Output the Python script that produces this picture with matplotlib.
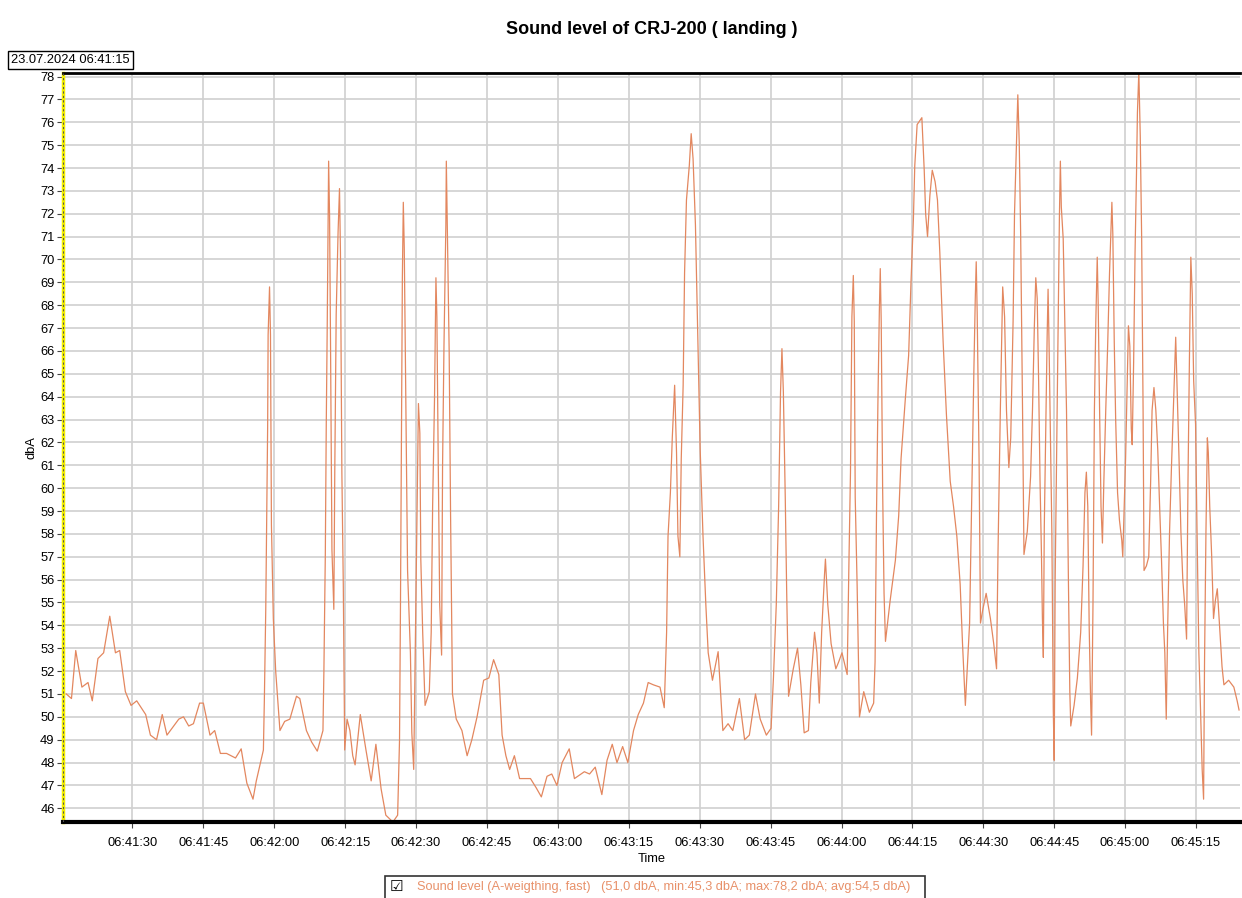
import matplotlib.pyplot as plt
import matplotlib
from matplotlib.patches import Rectangle
from matplotlib.ticker import FuncFormatter

matplotlib.rc('font', family=['Liberation Sans', 'DejaVu Sans'])

# seconds after 06:41:15
start_label = '23.07.2024 06:41:15'
start_sec = 6 * 3600 + 41 * 60 + 15

times = [1.0, 2.1, 3.0, 4.3, 5.6, 6.5, 7.7, 8.9, 10.2, 11.4, 12.3, 13.5, 14.7, 15.9,
         17.8, 18.8, 20.1, 21.3, 22.3, 24.8, 25.8, 26.9, 27.9, 29.2, 30.0, 31.4, 32.4,
         33.6, 34.9, 36.8, 38.0, 39.2, 40.5, 41.2, 42.7, 42.9, 43.2, 43.4, 43.6, 43.7,
         44.0, 44.2, 44.3, 44.4, 44.8, 45.3, 46.2, 47.2, 48.3, 49.7, 50.4, 51.8, 52.9,
         54.1, 55.3, 55.5, 55.8, 56.0, 56.2, 56.4, 56.5, 56.7, 56.9, 57.2, 57.6, 57.8,
         58.1, 58.5, 58.8, 59.0, 59.3, 59.6, 59.9, 60.4, 61.0, 61.6, 62.1, 63.2, 64.4,
         65.5, 66.5, 67.6, 68.6, 70.1, 71.1, 71.5, 71.7, 71.9, 72.1, 72.3, 72.5, 72.9,
         73.2, 73.8, 74.1, 74.5, 74.8, 75.2, 75.5, 75.8, 76.0, 76.4, 76.9, 77.8, 78.2,
         78.5, 78.9, 79.2, 79.4, 79.7, 80.0, 80.4, 80.6, 80.9, 81.3, 81.4, 81.6, 82.0,
         82.3, 82.7, 83.5, 84.7, 85.8, 86.8, 87.9, 89.3, 90.4, 91.4, 92.5, 93.2, 94.0,
         94.8, 95.8, 96.9, 99.2, 100.4, 101.5, 102.7, 103.7, 104.8, 105.9, 107.4, 108.5,
         110.6, 111.7, 112.9, 114.3, 115.4, 116.5, 117.5, 118.7, 119.8, 121.0, 122.0,
         123.1, 124.1, 125.2, 126.6, 127.5, 128.0, 128.3, 128.8, 129.2, 129.7, 130.1,
         130.4, 130.8, 131.1, 131.5, 131.8, 132.2, 132.8, 133.2, 133.6, 134.1, 134.6,
         135.1, 135.7, 136.3, 136.8, 137.7, 138.9, 139.9, 141.0, 142.0, 143.4, 144.5,
         145.5, 146.8, 147.8, 149.1, 150.1, 150.6, 151.2, 151.7, 152.1, 152.4, 152.7,
         153.1, 153.4, 153.8, 154.8, 155.7, 156.4, 157.1, 158.0, 158.5, 159.3, 159.8,
         160.3, 160.8, 161.4, 161.6, 162.1, 162.8, 163.8, 164.4, 165.1, 166.2, 166.6,
         166.9, 167.2, 167.5, 167.7, 167.9, 168.3, 168.8, 169.7, 170.9, 171.8, 172.1,
         172.4, 172.7, 173.0, 173.2, 173.4, 173.7, 174.0, 174.3, 175.3, 176.4, 177.1,
         177.6, 178.5, 179.2, 179.7, 180.2, 180.5, 181.0, 182.0, 182.5, 182.8, 183.2,
         183.7, 184.2, 184.8, 185.3, 185.8, 186.5, 187.2, 188.0, 188.7, 189.4, 190.1,
         190.6, 191.2, 192.1, 192.6, 193.0, 193.3, 193.5, 193.7, 194.1, 194.4, 194.9,
         195.6, 196.5, 197.2, 197.8, 198.1, 198.6, 199.1, 199.5, 199.9, 200.4, 200.8,
         201.3, 201.6, 202.1, 202.3, 202.6, 202.9, 203.3, 203.6, 204.3, 205.0, 205.4,
         205.8, 206.1, 206.4, 206.7, 207.0, 207.3, 207.5, 207.7, 207.9, 208.2, 208.5,
         208.7, 208.9, 209.2, 209.5, 209.8, 210.0, 210.2, 210.5, 210.8, 211.1, 211.3,
         211.5, 211.9, 212.2, 212.6, 213.0, 213.3, 213.5, 214.2, 214.9, 215.6, 216.1,
         216.5, 216.8, 217.1, 217.4, 217.7, 217.9, 218.2, 218.5, 218.8, 219.1, 219.3,
         219.6, 219.9, 220.2, 220.5, 220.9, 221.3, 221.7, 222.2, 222.4, 222.7, 223.0,
         223.4, 223.8, 224.3, 224.5, 224.8, 225.1, 225.5, 225.7, 226.0, 226.3, 226.5,
         226.8, 227.1, 227.4, 227.6, 227.9, 228.2, 228.5, 228.8, 229.0, 229.5, 230.0,
         230.4, 230.7, 231.1, 231.5, 231.9, 232.3, 232.7, 233.1, 233.4, 233.7, 234.0,
         234.4, 234.8, 235.2, 235.7, 235.9, 236.4, 236.8, 237.2, 237.6, 238.0, 238.3,
         238.6, 238.9, 239.2, 239.5, 239.9, 240.2, 240.6, 240.9, 241.3, 241.6, 241.8,
         242.1, 242.4, 242.6, 242.9, 243.3, 243.7, 244.1, 244.5, 245.0, 245.5, 245.9,
         246.9, 248.0, 248.7, 249.1]

levels = [51.0, 50.8, 52.9, 51.3, 51.5, 50.7, 52.55, 52.8, 54.4, 52.8, 52.9, 51.1, 50.5, 50.7,
          50.1, 49.2, 49.0, 50.1, 49.2, 49.9, 50.0, 49.6, 49.7, 50.6, 50.6, 49.2, 49.4,
          48.4, 48.4, 48.2, 48.6, 47.1, 46.4, 47.2, 48.55, 50.7, 54.7, 58.7, 62.7, 66.7,
          68.8, 66.7, 62.7, 58.4, 54.3, 52.0, 49.4, 49.8, 49.9, 50.9, 50.8, 49.4, 48.9,
          48.5, 49.4, 52.0, 57.1, 62.8, 67.0, 71.9, 74.3, 71.9, 66.4, 57.3, 54.7, 60.7,
          67.6, 71.2, 73.1, 70.3, 60.7, 55.8, 48.55, 49.9, 49.4, 48.3, 47.9, 50.1, 48.55,
          47.2, 48.8, 46.85, 45.7, 45.4, 45.7, 49.0, 54.9, 62.4, 69.2, 72.5, 70.5, 62.4,
          56.4, 52.8, 49.3, 47.7, 52.4, 59.0, 63.7, 62.4, 56.9, 53.7, 50.5, 51.1, 53.7,
          59.2, 63.9, 69.2, 67.5, 60.9, 54.9, 52.7, 60.9, 66.2, 71.5, 74.3, 71.5, 66.0,
          58.8, 51.0, 49.9, 49.4, 48.3, 49.0, 50.0, 51.6, 51.7, 52.5, 51.85, 49.2, 48.3,
          47.7, 48.3, 47.3, 47.3, 46.9, 46.5, 47.4, 47.5, 47.0, 48.0, 48.6, 47.3,
          47.6, 47.5, 47.8, 46.6, 48.1, 48.8, 48.0, 48.7, 48.0, 49.4, 50.1,
          50.6, 51.5, 51.4, 51.3, 50.4, 53.7, 57.9, 59.8, 62.2, 64.5, 61.55,
          57.9, 57.0, 61.3, 64.5, 69.4, 72.6, 74.1, 75.5, 74.4, 71.5, 66.6,
          61.7, 57.9, 54.9, 52.8, 51.6, 52.85, 49.4, 49.7, 49.4, 50.8, 49.0,
          49.2, 51.0, 49.9, 49.2, 49.5, 51.7, 54.9, 59.2, 64.2, 66.1, 64.2,
          59.6, 55.5, 50.9, 52.1, 53.0, 51.4, 49.3, 49.4, 51.5, 53.7, 52.8,
          50.6, 53.7, 56.2, 56.9, 54.9, 53.2, 52.1, 52.4, 52.8, 51.85, 57.1,
          60.7, 67.5, 69.3, 67.3, 59.6, 55.8, 50.0, 51.1, 50.2, 50.6, 52.4,
          58.8, 63.7, 67.7, 69.6, 67.3, 60.0, 55.4, 53.3, 55.1, 56.85, 58.8,
          61.3, 63.9, 65.8, 69.0, 71.7, 74.1, 75.9, 76.2, 73.9, 72.0, 71.0,
          72.8, 73.9, 73.4, 72.6, 70.3, 66.4, 63.2, 60.3, 59.2, 57.9, 55.8,
          53.2, 50.5, 54.1, 60.3, 65.1, 68.3, 69.9, 67.7, 61.3, 54.1, 54.7,
          55.4, 54.3, 53.2, 52.1, 57.1, 63.4, 68.8, 67.5, 63.4, 60.9, 62.2,
          67.3, 72.0, 75.6, 77.2, 75.1, 71.1, 63.4, 57.1, 58.1, 60.5, 63.4,
          67.1, 69.2, 68.3, 64.7, 60.3, 57.1, 54.3, 52.6, 58.3, 62.6, 66.6,
          68.7, 66.4, 62.4, 58.1, 50.3, 48.1, 56.0, 61.3, 66.4, 71.9, 74.3,
          72.3, 70.9, 67.7, 63.4, 56.0, 51.1, 49.6, 50.5, 51.7, 53.7, 56.6,
          59.8, 60.7, 59.2, 53.9, 50.7, 49.2, 54.9, 63.4, 67.3, 70.1, 68.1,
          63.4, 59.2, 57.6, 60.3, 63.4, 66.2, 69.4, 72.5, 71.1, 66.4, 63.0,
          59.8, 58.6, 57.7, 57.0, 59.2, 61.3, 65.1, 67.1, 66.2, 62.6, 61.9,
          65.5, 70.3, 73.7, 76.4, 78.2, 75.4, 70.9, 63.4, 56.4, 56.6, 57.0,
          60.3, 63.4, 64.4, 63.4, 61.7, 59.2, 56.85, 54.1, 52.8, 49.9, 53.9,
          58.1, 60.9, 63.4, 66.6, 65.1, 61.3, 58.1, 56.0, 54.9, 53.4, 60.3,
          65.6, 70.1, 68.5, 64.7, 62.8, 58.3, 52.8, 50.7, 47.7, 46.4, 52.4,
          58.1, 62.2, 61.55, 59.2, 57.1, 54.3, 55.1, 55.6, 53.9, 52.2, 51.4,
          51.6, 51.3, 50.7, 50.3]

tick_times = list(range(15, 241, 15))
y_ticks = list(range(46, 79))

line_color = '#e3875f'

fig = plt.figure(figsize=(12.42, 8.98), dpi=100)
ax = fig.add_axes([0.0507, 0.0846, 0.9473, 0.834])

ax.plot(times, levels, color=line_color, linewidth=0.9)

ax.set_xlim(0.3, 249.2)
ax.set_ylim(45.4, 78.15)

def fmt_time(t, pos):
    s = int(round(start_sec + t))
    return '%02d:%02d:%02d' % (s // 3600, (s // 60) % 60, s % 60)

ax.set_xticks(tick_times)
ax.xaxis.set_major_formatter(FuncFormatter(fmt_time))
ax.set_yticks(y_ticks)
ax.tick_params(axis='both', labelsize=9.3, length=4, width=0.8, color='#444444')
ax.tick_params(axis='x', pad=7)
ax.tick_params(axis='y', pad=2)

ax.grid(True, color='#d0d0d0', linewidth=1.2)
ax.set_axisbelow(True)

for side in ['top', 'bottom']:
    ax.spines[side].set_color('black')
ax.spines['bottom'].set_linewidth(3)
ax.spines['top'].set_linewidth(2)
ax.spines['right'].set_visible(False)
ax.spines['left'].set_color('#f4f000')
ax.spines['left'].set_linewidth(2.5)
ax.axvline(0.3, color='#555555', linewidth=0.8, linestyle=(0, (2, 2)), zorder=5)

ax.set_xlabel('Time', fontsize=9.3, labelpad=3)
ax.set_ylabel('dbA', fontsize=9.3, labelpad=2)

fig.text(0.525, 0.967, 'Sound level of CRJ-200 ( landing )', ha='center', va='center',
         fontsize=13, fontweight='bold')

fig.text(0.009, 0.933, start_label, ha='left', va='center', fontsize=9.3,
         bbox=dict(boxstyle='square,pad=0.25', facecolor='white', edgecolor='black', linewidth=1))

# legend box under the axis
fig.add_artist(Rectangle((0.310, -0.01), 0.435, 0.034, transform=fig.transFigure,
                         facecolor='white', edgecolor='#333333', linewidth=1.2))
fig.text(0.3195, 0.0123, '\u2611', ha='center', va='center', fontsize=11,
         family='DejaVu Sans', color='black')
fig.text(0.3355, 0.0123,
         'Sound level (A-weigthing, fast)   (51,0 dbA, min:45,3 dbA; max:78,2 dbA; avg:54,5 dbA)',
         ha='left', va='center', fontsize=9.2, color='#e8916a')

fig.savefig('out.png', dpi=100)
